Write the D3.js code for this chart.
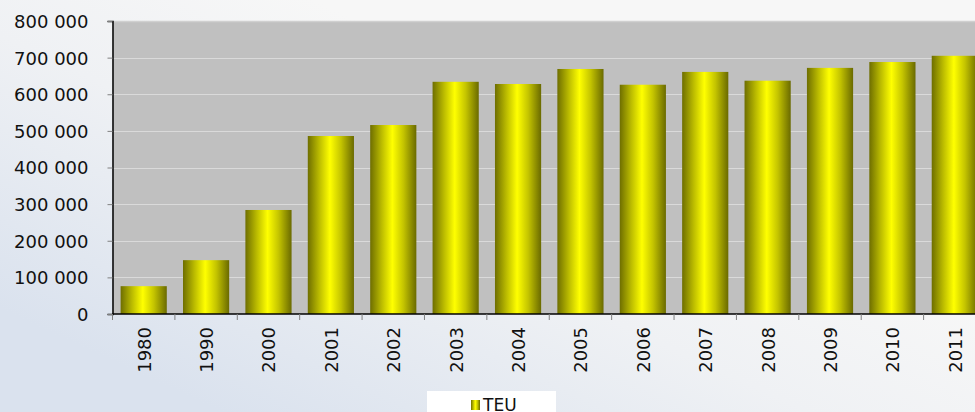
<!DOCTYPE html>
<html>
<head>
<meta charset="utf-8">
<script src="https://cdn.jsdelivr.net/npm/d3@7"></script>
<style>
  body { margin: 0; overflow: hidden; }
</style>
</head>
<body>
<script>
var width = 975;
var height = 412;

var years = ["1980", "1990", "2000", "2001", "2002", "2003", "2004", "2005", "2006", "2007", "2008", "2009", "2010", "2011"];
var teu = [76000, 147000, 284000, 486000, 516000, 634000, 628000, 669000, 626000, 661000, 637000, 672000, 688000, 705000];
var yTicks = [0, 100000, 200000, 300000, 400000, 500000, 600000, 700000, 800000];

var data = years.map((y, i) => ({year: y, value: teu[i]}));

var plot = {left: 112.5, top: 21, bottom: 314, right: 986};
var font = "'DejaVu Sans', Verdana, sans-serif";

var svg = d3.select("body")
  .append("svg")
  .attr("width", width)
  .attr("height", height)
  .style("font-family", font);

var defs = svg.append("defs");

var bg = defs.append("linearGradient").attr("id", "bg")
  .attr("x1", "0%").attr("y1", "75%").attr("x2", "55%").attr("y2", "25%");
bg.append("stop").attr("offset", "0%").attr("stop-color", "#dae2ee");
bg.append("stop").attr("offset", "60%").attr("stop-color", "#eff1f4");
bg.append("stop").attr("offset", "100%").attr("stop-color", "#f7f7f7");

var barGrad = defs.append("linearGradient").attr("id", "bar")
  .attr("x1", "0%").attr("x2", "100%").attr("y1", "0%").attr("y2", "0%");
barGrad.append("stop").attr("offset", "0%").attr("stop-color", "#6e6e00");
barGrad.append("stop").attr("offset", "25%").attr("stop-color", "#bcbc00");
barGrad.append("stop").attr("offset", "48%").attr("stop-color", "#ffff00");
barGrad.append("stop").attr("offset", "72%").attr("stop-color", "#c4c400");
barGrad.append("stop").attr("offset", "100%").attr("stop-color", "#6a6a00");

svg.append("rect")
  .attr("width", width)
  .attr("height", height)
  .attr("fill", "url(#bg)");

var x = d3.scaleBand()
  .domain(years)
  .range([plot.left, plot.right])
  .paddingInner(0.26)
  .paddingOuter(0.13);

var y = d3.scaleLinear()
  .domain([0, 800000])
  .range([plot.bottom, plot.top]);

// plot area
svg.append("rect")
  .attr("x", plot.left)
  .attr("y", plot.top)
  .attr("width", plot.right - plot.left)
  .attr("height", plot.bottom - plot.top)
  .attr("fill", "#c0c0c0");

// grid lines
svg.selectAll("grid").data(yTicks.filter(d => d > 0)).enter()
  .append("line")
  .attr("x1", plot.left)
  .attr("x2", plot.right)
  .attr("y1", d => Math.round(y(d)) + 0.5)
  .attr("y2", d => Math.round(y(d)) + 0.5)
  .attr("stroke", d => d == 800000 ? "#d0d0d0" : "#dadada")
  .attr("stroke-width", d => d == 800000 ? 1.5 : 1.2);

// bars
svg.selectAll("bars").data(data).enter()
  .append("rect")
  .attr("x", d => x(d.year))
  .attr("y", d => y(d.value))
  .attr("width", x.bandwidth())
  .attr("height", d => plot.bottom - y(d.value))
  .attr("fill", "url(#bar)");

// y axis
var fmt = d => d3.format(",")(d).replace(/,/g, " ");
var yAxis = svg.append("g")
  .attr("transform", "translate(" + plot.left + ",0)")
  .call(d3.axisLeft(y).tickValues(yTicks).tickFormat(fmt).tickSize(5).tickPadding(19));
yAxis.attr("font-family", font).attr("font-size", 18);
yAxis.select(".domain").attr("stroke", "#000").attr("stroke-width", 1.5);
yAxis.selectAll(".tick line").attr("stroke", "#808080");
yAxis.selectAll(".tick text").attr("fill", "#111").attr("dy", "0.36em");

// x axis
var step = x.step();
var xAxis = svg.append("g")
  .attr("transform", "translate(0," + plot.bottom + ")");
xAxis.append("line")
  .attr("x1", plot.left).attr("x2", plot.right)
  .attr("y1", 0).attr("y2", 0)
  .attr("stroke", "#000").attr("stroke-width", 1.5);
xAxis.selectAll("ticks").data(d3.range(years.length + 1)).enter()
  .append("line")
  .attr("x1", i => plot.left + i * step)
  .attr("x2", i => plot.left + i * step)
  .attr("y1", 0).attr("y2", 6)
  .attr("stroke", "#808080");
xAxis.selectAll("labels").data(years).enter()
  .append("text")
  .attr("transform", d => "translate(" + (x(d) + x.bandwidth() / 2 + 7) + ",13) rotate(-90)")
  .attr("text-anchor", "end")
  .attr("font-size", 18)
  .attr("fill", "#111")
  .text(d => d);

// legend
var legend = svg.append("g");
legend.append("rect")
  .attr("x", 427).attr("y", 391)
  .attr("width", 129).attr("height", 21)
  .attr("fill", "#ffffff");
legend.append("rect")
  .attr("x", 471).attr("y", 400)
  .attr("width", 9).attr("height", 10)
  .attr("fill", "url(#bar)");
legend.append("text")
  .attr("x", 483).attr("y", 410.5)
  .attr("font-size", 17)
  .attr("fill", "#111")
  .text("TEU");
</script>
</body>
</html>
